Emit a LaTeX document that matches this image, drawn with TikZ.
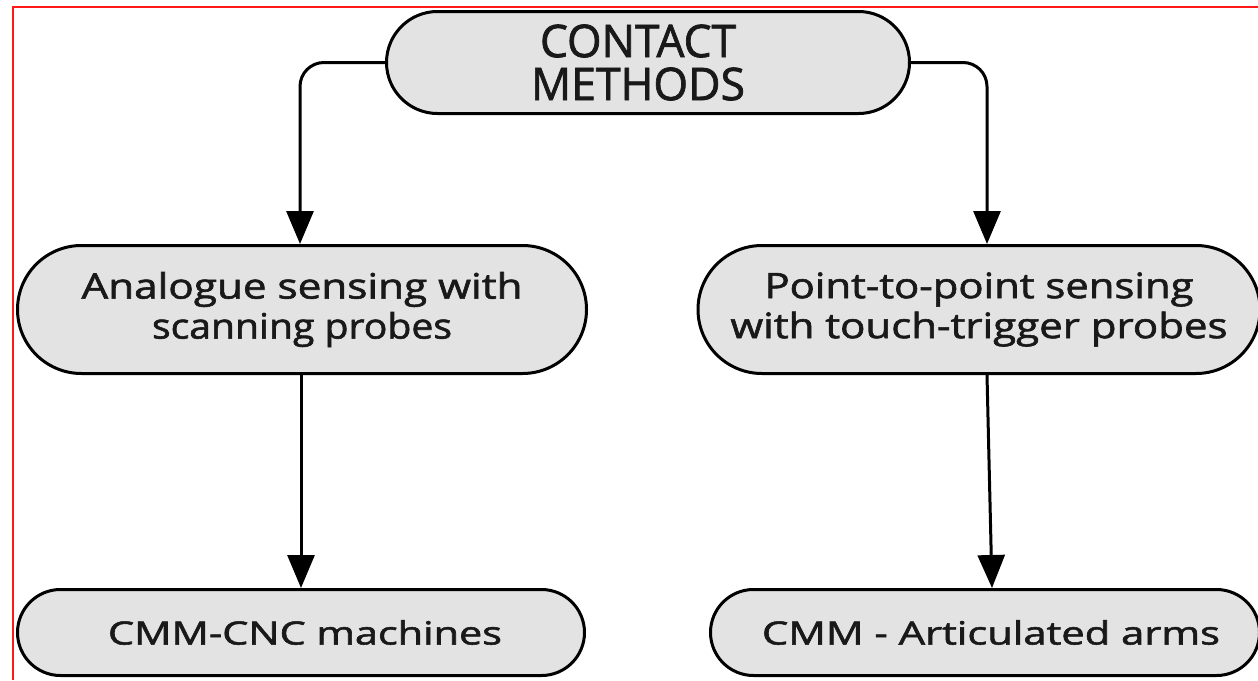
\documentclass[tikz,border=0pt]{standalone}
\usepackage{fontspec}
\setmainfont{Open Sans}[BoldFont={*}, BoldFeatures={FakeBold=1.6}]
\usetikzlibrary{shapes.misc,arrows.meta}
\definecolor{boxfill}{HTML}{E3E3E3}
\definecolor{frame}{HTML}{FF1A1A}
\newcommand{\fitline}[2]{\resizebox{#1}{\height}{#2}}
\tikzset{
  pill/.style={rounded rectangle, draw=black, line width=3pt, fill=boxfill,
    inner sep=0pt, align=center, text=black!90},
  conn/.style={line width=3pt, -{Triangle[width=27pt,length=33pt]}},
}
\begin{document}
\begin{tikzpicture}[x=1pt,y=-1pt]
\useasboundingbox (0,0) rectangle (1258,680);
\fill[white] (0,0) rectangle (1258,680);
\draw[frame, line width=2.5pt] (13,680) -- (13,7) -- (1258,7);

\node[pill, minimum width=523pt, minimum height=102pt,
      font=\fontsize{45}{43}\selectfont\bfseries] (top) at (648,62.5)
  {\hspace*{-20pt}\fitline{196pt}{CONTACT}\\\hspace*{-20pt}\fitline{214pt}{METHODS}};

\node[pill, minimum width=569pt, minimum height=128pt,
      font=\fontsize{35}{40}\selectfont\bfseries] (ml) at (302,309.5)
  {\fitline{441pt}{Analogue sensing with}\\\fitline{300pt}{scanning probes}};

\node[pill, minimum width=562pt, minimum height=128pt,
      font=\fontsize{35}{40}\selectfont\bfseries] (mr) at (979,309.5)
  {\fitline{429pt}{Point-to-point sensing}\\\fitline{497pt}{with touch-trigger probes}};

\node[pill, minimum width=567pt, minimum height=86pt,
      font=\fontsize{32}{36}\selectfont\bfseries] (bl) at (301,632.5)
  {\hspace*{8pt}\fitline{394pt}{CMM-CNC machines}};

\node[pill, minimum width=549pt, minimum height=86pt,
      font=\fontsize{32}{36}\selectfont\bfseries] (br) at (985,632.5)
  {\hspace*{12pt}\fitline{458pt}{CMM - Articulated arms}};

\coordinate (mlin) at ([xshift=-2pt]ml.north);
\coordinate (mrin) at ([xshift=8pt]mr.north);
\coordinate (mlout) at ([xshift=-1pt]ml.south);
\coordinate (mrout) at ([xshift=8pt]mr.south);
\coordinate (brin) at ([xshift=7pt]br.north);

\draw[conn, rounded corners=24pt] (top.west) -| (mlin);
\draw[conn, rounded corners=24pt] (top.east) -| (mrin);
\draw[conn] (mlout) -- (bl.north);
\draw[conn] (mrout) -- (brin);
\end{tikzpicture}
\end{document}
